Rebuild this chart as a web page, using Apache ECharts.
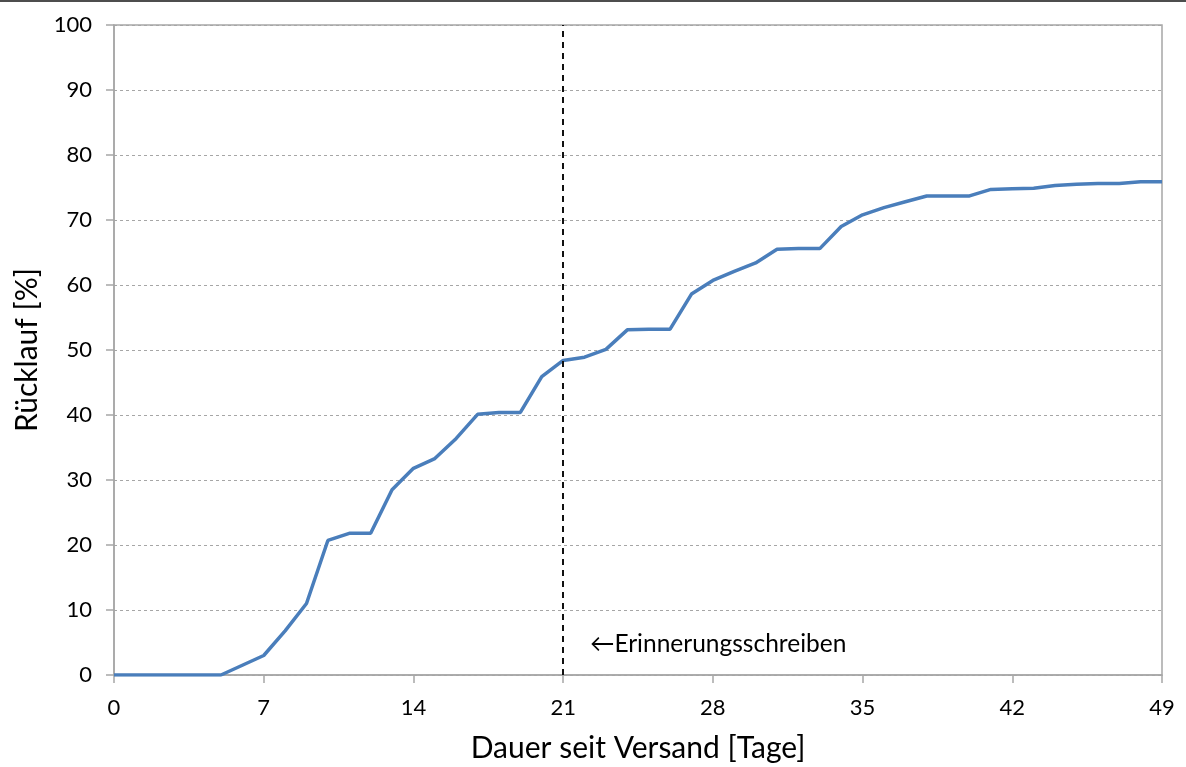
<!DOCTYPE html>
<html>
<head>
<meta charset="utf-8">
<script src="https://cdn.jsdelivr.net/npm/echarts@6/dist/echarts.min.js"></script>
<style>
html,body{margin:0;padding:0;background:#fff;}
#chart{width:1186px;height:767px;}
</style>
</head>
<body>
<div id="chart"></div>
<script>
const days = [0,1,2,3,4,5,6,7,8,9,10,11,12,13,14,15,16,17,18,19,20,21,22,23,24,25,26,27,28,29,30,31,32,33,34,35,36,37,38,39,40,41,42,43,44,45,46,47,48,49];
const ruecklauf = [0,0,0,0,0,0,1.5,3.0,6.8,11.0,20.7,21.8,21.8,28.5,31.8,33.3,36.4,40.1,40.4,40.4,45.9,48.4,48.9,50.1,53.1,53.2,53.2,58.6,60.7,62.1,63.4,65.5,65.6,65.6,69.0,70.8,71.9,72.8,73.7,73.7,73.7,74.7,74.8,74.9,75.3,75.5,75.6,75.6,75.9,75.9];
const xTicks = [0,7,14,21,28,35,42,49];
const reminderDay = 21;
const annotationText = '\u2190Erinnerungsschreiben';
const xTitle = 'Dauer seit Versand [Tage]';
const yTitle = 'Rücklauf [%]';

const chart = echarts.init(document.getElementById('chart'), null, {renderer:'canvas'});
const font = 'Lato, "Open Sans", sans-serif';
chart.setOption({
  animation:false,
  backgroundColor:'#fff',
  textStyle:{fontFamily:font},
  graphic:[{type:'rect',left:0,top:0,shape:{width:1186,height:2},style:{fill:'#4d4d4d'}}],
  grid:{left:114,right:24,top:25,bottom:92,show:true,borderColor:'#a6a6a6',borderWidth:1.5,outerBoundsMode:'none',containLabel:false},
  xAxis:{
    type:'value',min:0,max:49,interval:7,
    name:xTitle,nameLocation:'middle',nameGap:58,
    nameTextStyle:{fontSize:30,color:'#000',fontFamily:font},
    axisLine:{show:true,lineStyle:{color:'#a6a6a6',width:1.5}},
    axisTick:{show:true,length:8,lineStyle:{color:'#a6a6a6',width:1.5}},
    axisLabel:{fontSize:22,color:'#000',margin:22,fontFamily:font},
    splitLine:{show:false}
  },
  yAxis:{
    type:'value',min:0,max:100,interval:10,
    name:yTitle,nameLocation:'middle',nameGap:72,nameRotate:90,
    nameTextStyle:{fontSize:30,color:'#000',fontFamily:font},
    axisLine:{show:true,lineStyle:{color:'#a6a6a6',width:1.5}},
    axisTick:{show:true,length:8,lineStyle:{color:'#a6a6a6',width:1.5}},
    axisLabel:{fontSize:22,color:'#000',margin:22,fontFamily:font},
    splitLine:{show:true,lineStyle:{color:'#a6a6a6',type:[3,3],width:1}}
  },
  series:[{
    type:'line',
    data:days.map((d,i)=>[d,ruecklauf[i]]),
    showSymbol:false,symbol:'none',
    lineStyle:{color:'#4a7ebb',width:3.5},
    z:3,
    markLine:{
      silent:true,symbol:['none','none'],
      lineStyle:{color:'#111',type:[6,5],width:2},
      label:{show:false},
      data:[[{coord:[reminderDay,0]},{coord:[reminderDay,100]}]]
    },
    markPoint:{
      silent:true,symbol:'circle',symbolSize:0,
      label:{show:true,position:'right',distance:0,formatter:annotationText,fontSize:24.5,color:'#000',fontFamily:font},
      data:[{coord:[22.25,4.77]}]
    }
  }]
});
</script>
</body>
</html>
